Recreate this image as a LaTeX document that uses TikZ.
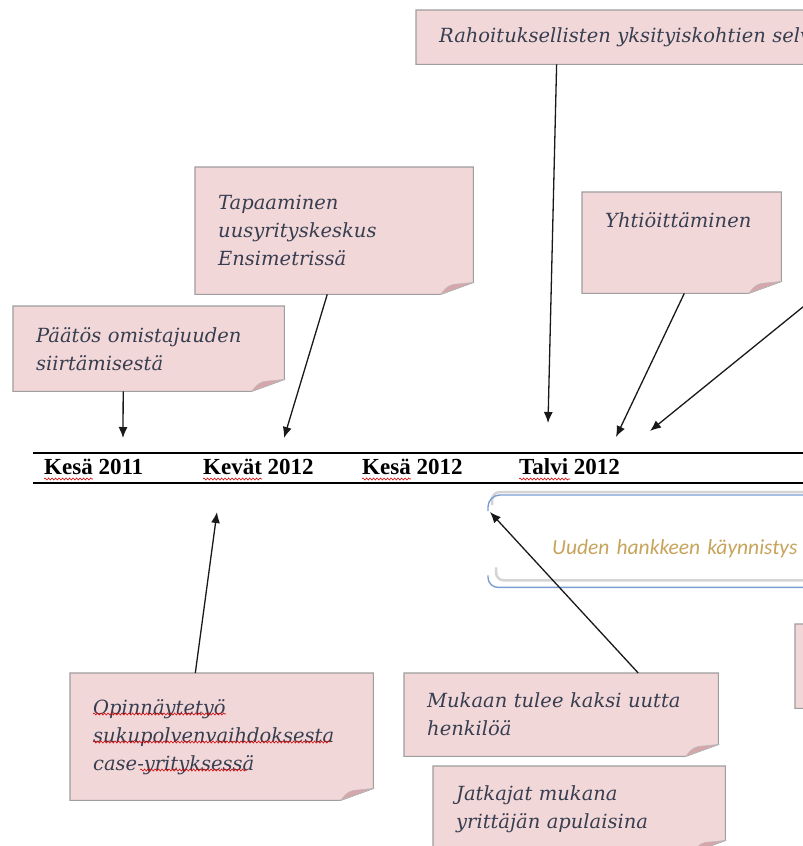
\documentclass[tikz,border=0pt]{standalone}
\usepackage{fontspec}
\setmainfont{Liberation Serif}
\newfontfamily\notefont{DejaVu Serif}
\newfontfamily\smartfont{Carlito}
\usetikzlibrary{arrows.meta, positioning, calc, backgrounds, decorations.pathmorphing}

\definecolor{notepink}{RGB}{242,215,217}
\definecolor{noteedge}{RGB}{158,158,158}
\definecolor{notecurl}{RGB}{214,166,170}
\definecolor{notetext}{RGB}{55,62,80}
\definecolor{smartblue}{RGB}{122,158,210}
\definecolor{smartgray}{RGB}{212,212,212}
\definecolor{smartgold}{RGB}{198,164,92}

\tikzset{
  note/.style={anchor=north west, inner xsep=23pt, inner ysep=0pt, align=left,
    text=notetext, font=\notefont\itshape\fontsize{19.5}{28}\selectfont},
  link/.style={-{Latex[length=11pt,width=9pt]}, line width=1.3pt, black!90},
  season/.style={anchor=west, inner sep=0pt, font=\bfseries\fontsize{23}{26}\selectfont},
  squig/.style={red!85!black, line width=0.6pt, decorate,
    decoration={snake, amplitude=1pt, segment length=3.5pt}}
}

% paperilappu taitetulla kulmalla
\newcommand{\lappu}[1]{%
  \begin{scope}[on background layer]
    \filldraw[fill=notepink, draw=noteedge, line width=1.1pt]
      (#1.north west) -- (#1.north east) -- ([yshift=12pt]#1.south east)
      -- ([xshift=-33pt]#1.south east) -- (#1.south west) -- cycle;
    \filldraw[fill=notecurl, draw=noteedge!70, line width=0.5pt]
      ([xshift=-33pt]#1.south east) .. controls ([xshift=-26pt,yshift=8pt]#1.south east)
      .. ([xshift=-20pt,yshift=10pt]#1.south east) -- ([yshift=12pt]#1.south east) -- cycle;
  \end{scope}}

\begin{document}
\begin{tikzpicture}[x=1pt, y=-1pt]
  \useasboundingbox (0,0) rectangle (803,846);
  \begin{scope}[on background layer]
    \fill[white] (0,0) rectangle (803,846);
  \end{scope}

  % Aikajana
  \draw[line width=1.6pt] (33,453) -- (810,453);
  \draw[line width=1.6pt] (33,483) -- (810,483);
  \node[season] (kesa11) at (44,467) {Kesä 2011};
  \node[season] (kevat12) at (203,467) {Kevät 2012};
  \node[season] (kesa12) at (362,467) {Kesä 2012};
  \node[season] (talvi12) at (519,467) {Talvi 2012};
  \draw[squig] (44,479) -- (93,479);
  \draw[squig] (203,479) -- (262,479);
  \draw[squig] (362,479) -- (411,479);
  \draw[squig] (519,479) -- (570,479);

  % Laput
  \node[note, minimum width=271pt, minimum height=85pt, text width=225pt] (paatos) at (13,306)
    {Päätös omistajuuden\\siirtämisestä};
  \node[note, minimum width=278pt, minimum height=127pt, text width=232pt] (tapaaminen) at (195,167)
    {Tapaaminen\\uusyrityskeskus\\Ensimetrissä};
  \node[note, minimum width=446pt, minimum height=54pt, text width=400pt] (rahoitus) at (416,10)
    {Rahoituksellisten yksityiskohtien selv};
  \node[note, minimum width=199pt, minimum height=101pt, text width=153pt, text depth=45pt] (yhtio) at (582,192)
    {Yhtiöittäminen};
  \node[note, minimum width=303pt, minimum height=127pt, text width=257pt] (opinnayte) at (70,673)
    {Opinnäytetyö\\sukupolvenvaihdoksesta\\case-yrityksessä};
  \node[note, minimum width=314pt, minimum height=83pt, text width=268pt] (mukaan) at (404,673)
    {Mukaan tulee kaksi uutta\\henkilöä};
  \node[note, minimum width=292pt, minimum height=86pt, text width=246pt] (jatkajat) at (433,766)
    {Jatkajat mukana\\yrittäjän apulaisina};
  \node[note, minimum width=60pt, minimum height=84pt, text width=14pt] (oikea) at (795,624) {};
  \foreach \n in {paatos, tapaaminen, rahoitus, yhtio, opinnayte, mukaan, jatkajat, oikea}
    \lappu{\n};
  \draw[squig] (93,714) -- (226,714);
  \draw[squig] (93,742) -- (330,742);
  \draw[squig] (140,770) -- (247,770);

  % Uusi hanke
  \node[anchor=north west, minimum height=92pt, text width=330pt, inner xsep=64pt, inner ysep=0pt,
    text height=30pt, text depth=4pt,
    align=left, text=smartgold, font=\smartfont\itshape\fontsize{21.5}{24}\selectfont] (uusi) at (488,495)
    {Uuden hankkeen käynnistys};
  \draw[smartgray, line width=2.5pt, rounded corners=8pt]
    ($(uusi.north west)+(4,10)$) -- ($(uusi.north west)+(4,-3)$) -- ($(uusi.north east)+(0,-3)$);
  \draw[smartgray, line width=2.5pt, rounded corners=8pt]
    ($(uusi.south west)+(8,-20)$) -- ($(uusi.south west)+(8,-7)$) -- ($(uusi.south east)+(0,-7)$);
  \draw[smartblue, line width=1.4pt, rounded corners=12pt]
    ($(uusi.north west)+(0,16)$) -- (uusi.north west) -- (uusi.north east);
  \draw[smartblue, line width=1.4pt, rounded corners=10pt]
    ($(uusi.south west)+(0,-12)$) -- (uusi.south west) -- (uusi.south east);

  % Nuolet
  \coordinate (tPaatos) at (123,438);
  \coordinate (tTapaaminen) at (284,438);
  \coordinate (tRahoitus) at (548,423);
  \coordinate (tYhtio) at (616,437);
  \coordinate (tOikea) at (650,431);
  \coordinate (ulkoOikea) at (830,285);
  \coordinate (tOpinnayte) at (217,512);
  \draw[link] ($(paatos.south west)!0.406!(paatos.south east)$) -- (tPaatos);
  \draw[link] ($(tapaaminen.south west)!0.475!(tapaaminen.south east)$) -- (tTapaaminen);
  \draw[link] ($(rahoitus.south west)!0.315!(rahoitus.south east)$) -- (tRahoitus);
  \draw[link] ($(yhtio.south west)!0.513!(yhtio.south east)$) -- (tYhtio);
  \draw[link] (ulkoOikea) -- (tOikea);
  \draw[link] ($(opinnayte.north west)!0.413!(opinnayte.north east)$) -- (tOpinnayte);
  \draw[link] ($(mukaan.north west)!0.745!(mukaan.north east)$) -- ($(uusi.north west)+(2,17)$);
\end{tikzpicture}
\end{document}
